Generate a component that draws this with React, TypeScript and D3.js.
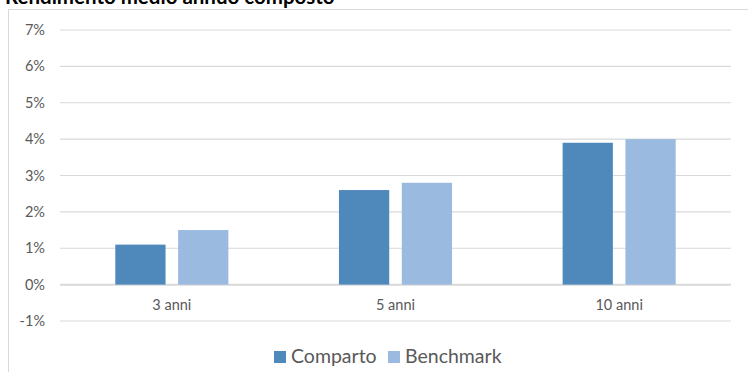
import React from "react";
import * as d3 from "d3";

// Compound average annual return, fund vs benchmark
const categories = ["3 anni", "5 anni", "10 anni"];
const seriesNames = ["Comparto", "Benchmark"];
const comparto = [1.1, 2.6, 3.9];
const benchmark = [1.5, 2.8, 4.0];
const yTicks = [-1, 0, 1, 2, 3, 4, 5, 6, 7];
const title = "Rendimento medio annuo composto";

const colors: Record<string, string> = {
  Comparto: "#4F89BC",
  Benchmark: "#9BBAE0",
};

const W = 748;
const H = 372;
const font = "Lato, 'Open Sans', sans-serif";
const textColor = "#595959";
const gridColor = "#D9D9D9";

export default function App() {
  const plotLeft = 60;
  const plotRight = 731;
  const y = d3.scaleLinear().domain([-1, 7]).range([321, 30]);
  const x0 = d3.scaleBand<string>().domain(categories).range([plotLeft, plotRight]).padding(0);
  const x1 = d3
    .scaleBand<string>()
    .domain(seriesNames)
    .range([0, x0.bandwidth()])
    .paddingInner(0.2)
    .paddingOuter(0.88);

  const values: Record<string, number[]> = { Comparto: comparto, Benchmark: benchmark };

  const legendItems = [
    { name: "Comparto", x: 274 },
    { name: "Benchmark", x: 388 },
  ];

  return (
    <svg
      width={W}
      height={H}
      style={{ position: "absolute", left: 0, top: 0, background: "#fff" }}
    >
      <rect x={8.5} y={9.5} width={W + 20} height={H + 20} fill="#fff" stroke={gridColor} strokeWidth={1} />
      <text
        x={5}
        y={3.5}
        fontFamily={font}
        fontWeight={700}
        fontSize={20.5}
        fill="#000"
      >
        {title}
      </text>

      {yTicks.map((t) => (
        <g key={t}>
          <line
            x1={plotLeft}
            x2={plotRight}
            y1={y(t)}
            y2={y(t)}
            stroke={gridColor}
            strokeWidth={t === 0 ? 2 : 1.2}
          />
          <text
            x={45}
            y={y(t)}
            dy="0.35em"
            textAnchor="end"
            fontFamily={font}
            fontSize={14.5}
            fill={textColor}
          >
            {`${t}%`}
          </text>
        </g>
      ))}

      {categories.map((c, i) => (
        <g key={c} transform={`translate(${x0(c)},0)`}>
          {seriesNames.map((s) => {
            const v = values[s][i];
            return (
              <rect
                key={s}
                x={x1(s)}
                y={y(Math.max(0, v))}
                width={x1.bandwidth()}
                height={Math.abs(y(v) - y(0))}
                fill={colors[s]}
              />
            );
          })}
          <text
            x={x0.bandwidth() / 2}
            y={310}
            textAnchor="middle"
            fontFamily={font}
            fontSize={14.5}
            fill={textColor}
          >
            {c}
          </text>
        </g>
      ))}

      {legendItems.map((l) => (
        <g key={l.name}>
          <rect x={l.x} y={351} width={12} height={12} fill={colors[l.name]} />
          <text x={l.x + 17} y={363} fontFamily={font} fontSize={19.5} fill={textColor}>
            {l.name}
          </text>
        </g>
      ))}
    </svg>
  );
}
